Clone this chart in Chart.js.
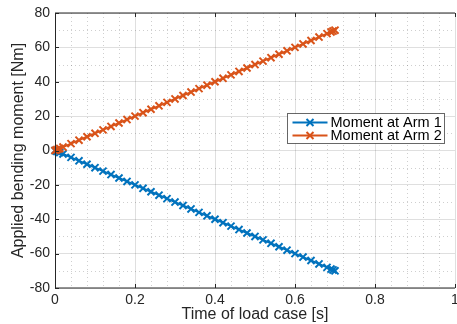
<!DOCTYPE html>
<html>
<head>
<meta charset="utf-8">
<script src="https://cdn.jsdelivr.net/npm/chart.js@4"></script>
<style>
  html, body { margin: 0; padding: 0; background: #fff; overflow: hidden; }
  #wrap { width: 457px; height: 324px; overflow: hidden; }
  #chart-section { display: block; }
</style>
</head>
<body>
<div id="wrap"><canvas id="chart-section" width="462" height="324"></canvas></div>
<script>
const timeS = [0, 0.004, 0.008, 0.012, 0.02, 0.04, 0.06, 0.08, 0.1, 0.12, 0.14, 0.16, 0.18, 0.2,
  0.22, 0.24, 0.26, 0.28, 0.3, 0.32, 0.34, 0.36, 0.38, 0.4, 0.42, 0.44, 0.46, 0.48, 0.5,
  0.52, 0.54, 0.56, 0.58, 0.6, 0.62, 0.64, 0.66, 0.68, 0.69, 0.695, 0.7]
const momentArm1 = [0, -0.4, -0.8, -1.2, -2, -4, -6, -8, -10, -12, -14, -16, -18, -20,
  -22, -24, -26, -28, -30, -32, -34, -36, -38, -40, -42, -44, -46, -48, -50,
  -52, -54, -56, -58, -60, -62, -64, -66, -68, -69, -69.5, -70]
const momentArm2 = [0, 0.4, 0.8, 1.2, 2, 4, 6, 8, 10, 12, 14, 16, 18, 20,
  22, 24, 26, 28, 30, 32, 34, 36, 38, 40, 42, 44, 46, 48, 50,
  52, 54, 56, 58, 60, 62, 64, 66, 68, 69, 69.5, 70]
const seriesLabels = ['Moment at Arm 1', 'Moment at Arm 2']
const seriesColors = ['#0072BD', '#D95319']
const xTicks = [0, 0.2, 0.4, 0.6, 0.8, 1]
const yTicks = [-80, -60, -40, -20, 0, 20, 40, 60, 80]

const FONT = "'Liberation Sans', Arial, sans-serif"
const AXIS = '#262626'

// minor dotted grid, box, inward ticks (matlab look)
const matlabAxes = {
  id: 'matlabAxes',
  beforeDatasetsDraw(chart) {
    const { ctx, chartArea: a, scales: { x, y } } = chart
    ctx.save()
    ctx.strokeStyle = 'rgba(38,38,38,0.22)'
    ctx.lineWidth = 1
    ctx.setLineDash([1, 3])
    for (let i = 0; i < xTicks.length - 1; i++) {
      for (let k = 1; k < 5; k++) {
        const px = Math.round(x.getPixelForValue(xTicks[i] + (xTicks[i + 1] - xTicks[i]) * k / 5)) + 0.5
        ctx.beginPath(); ctx.moveTo(px, a.top); ctx.lineTo(px, a.bottom); ctx.stroke()
      }
    }
    for (let i = 0; i < yTicks.length - 1; i++) {
      const py = Math.round(y.getPixelForValue((yTicks[i] + yTicks[i + 1]) / 2)) + 0.5
      ctx.beginPath(); ctx.moveTo(a.left, py); ctx.lineTo(a.right, py); ctx.stroke()
    }
    ctx.restore()
  },
  afterDraw(chart) {
    const { ctx, chartArea: a, scales: { x, y } } = chart
    ctx.save()
    ctx.strokeStyle = AXIS
    ctx.lineWidth = 1
    ctx.beginPath()
    ctx.moveTo(a.left + 0.5, a.top); ctx.lineTo(a.left + 0.5, a.bottom)
    ctx.moveTo(a.left, a.bottom); ctx.lineTo(a.right, a.bottom)
    ctx.moveTo(a.left, a.top); ctx.lineTo(a.right, a.top)
    ctx.stroke()
    ctx.beginPath()
    xTicks.forEach(v => {
      const px = Math.round(x.getPixelForValue(v)) + 0.5
      ctx.moveTo(px, a.top); ctx.lineTo(px, a.top + 4)
      ctx.moveTo(px, a.bottom); ctx.lineTo(px, a.bottom - 4)
    })
    yTicks.forEach(v => {
      const py = Math.round(y.getPixelForValue(v)) + 0.5
      ctx.moveTo(a.left, py); ctx.lineTo(a.left + 4, py)
    })
    ctx.stroke()
    ctx.restore()
  }
}

const insideLegend = {
  id: 'insideLegend',
  afterDraw(chart) {
    const { ctx, chartArea: a } = chart
    const left = a.left + 232.5, top = 113.5, w = 157, h = 30
    ctx.save()
    ctx.fillStyle = '#fff'
    ctx.fillRect(left, top, w, h)
    ctx.strokeStyle = 'rgba(38,38,38,0.7)'
    ctx.lineWidth = 1
    ctx.strokeRect(left, top, w, h)
    ctx.font = '14.5px ' + FONT
    ctx.textBaseline = 'middle'
    chart.data.datasets.forEach((ds, i) => {
      const cy = top + 9 + i * 13
      ctx.strokeStyle = ds.borderColor
      ctx.lineWidth = 2
      ctx.beginPath(); ctx.moveTo(left + 5, cy); ctx.lineTo(left + 40, cy); ctx.stroke()
      const mx = left + 22.5, r = 3.5
      ctx.beginPath()
      ctx.moveTo(mx - r, cy - r); ctx.lineTo(mx + r, cy + r)
      ctx.moveTo(mx - r, cy + r); ctx.lineTo(mx + r, cy - r)
      ctx.stroke()
      ctx.fillStyle = '#000'
      ctx.fillText(ds.label, left + 43, cy + 0.5)
    })
    ctx.restore()
  }
}

new Chart(document.getElementById('chart-section'), {
  type: 'line',
  plugins: [matlabAxes, insideLegend],
  data: {
    datasets: [
      {
        label: seriesLabels[0],
        data: timeS.map((t, i) => ({ x: t, y: momentArm1[i] })),
        borderColor: seriesColors[0],
        order: 1
      },
      {
        label: seriesLabels[1],
        data: timeS.map((t, i) => ({ x: t, y: momentArm2[i] })),
        borderColor: seriesColors[1],
        order: 0
      }
    ].map(ds => Object.assign(ds, {
      backgroundColor: ds.borderColor,
      borderWidth: 2,
      pointStyle: 'crossRot',
      pointRadius: 5,
      pointBorderWidth: 2,
      pointBorderColor: ds.borderColor,
      tension: 0,
      clip: false
    }))
  },
  options: {
    responsive: false,
    devicePixelRatio: 1,
    animation: false,
    layout: { padding: { top: 13, right: 2, left: 0, bottom: 0 } },
    plugins: {
      legend: { display: false },
      tooltip: { enabled: false }
    },
    scales: {
      x: {
        type: 'linear',
        min: 0,
        max: 1,
        afterBuildTicks: s => { s.ticks = xTicks.map(v => ({ value: v })) },
        afterFit: s => { s.height = 36; s.paddingLeft = 0; s.paddingRight = 0 },
        ticks: {
          padding: 4,
          color: AXIS,
          font: { family: FONT, size: 14 },
          maxRotation: 0,
          callback: v => String(v)
        },
        grid: { color: 'rgba(38,38,38,0.15)', drawTicks: false },
        border: { display: false },
        title: {
          display: true,
          text: 'Time of load case [s]',
          color: AXIS,
          font: { family: FONT, size: 16 },
          padding: { top: 0, bottom: 0 }
        }
      },
      y: {
        min: -80,
        max: 80,
        afterBuildTicks: s => { s.ticks = yTicks.map(v => ({ value: v })) },
        afterFit: s => { s.width = 55; s.paddingTop = 0; s.paddingBottom = 0 },
        ticks: {
          padding: 5,
          color: AXIS,
          font: { family: FONT, size: 14 },
          callback: v => String(v)
        },
        grid: { color: 'rgba(38,38,38,0.15)', drawTicks: false },
        border: { display: false },
        title: {
          display: true,
          text: 'Applied bending moment [Nm]',
          color: AXIS,
          font: { family: FONT, size: 16 },
          padding: { top: 9, bottom: 0 }
        }
      }
    }
  }
})
</script>
</body>
</html>
